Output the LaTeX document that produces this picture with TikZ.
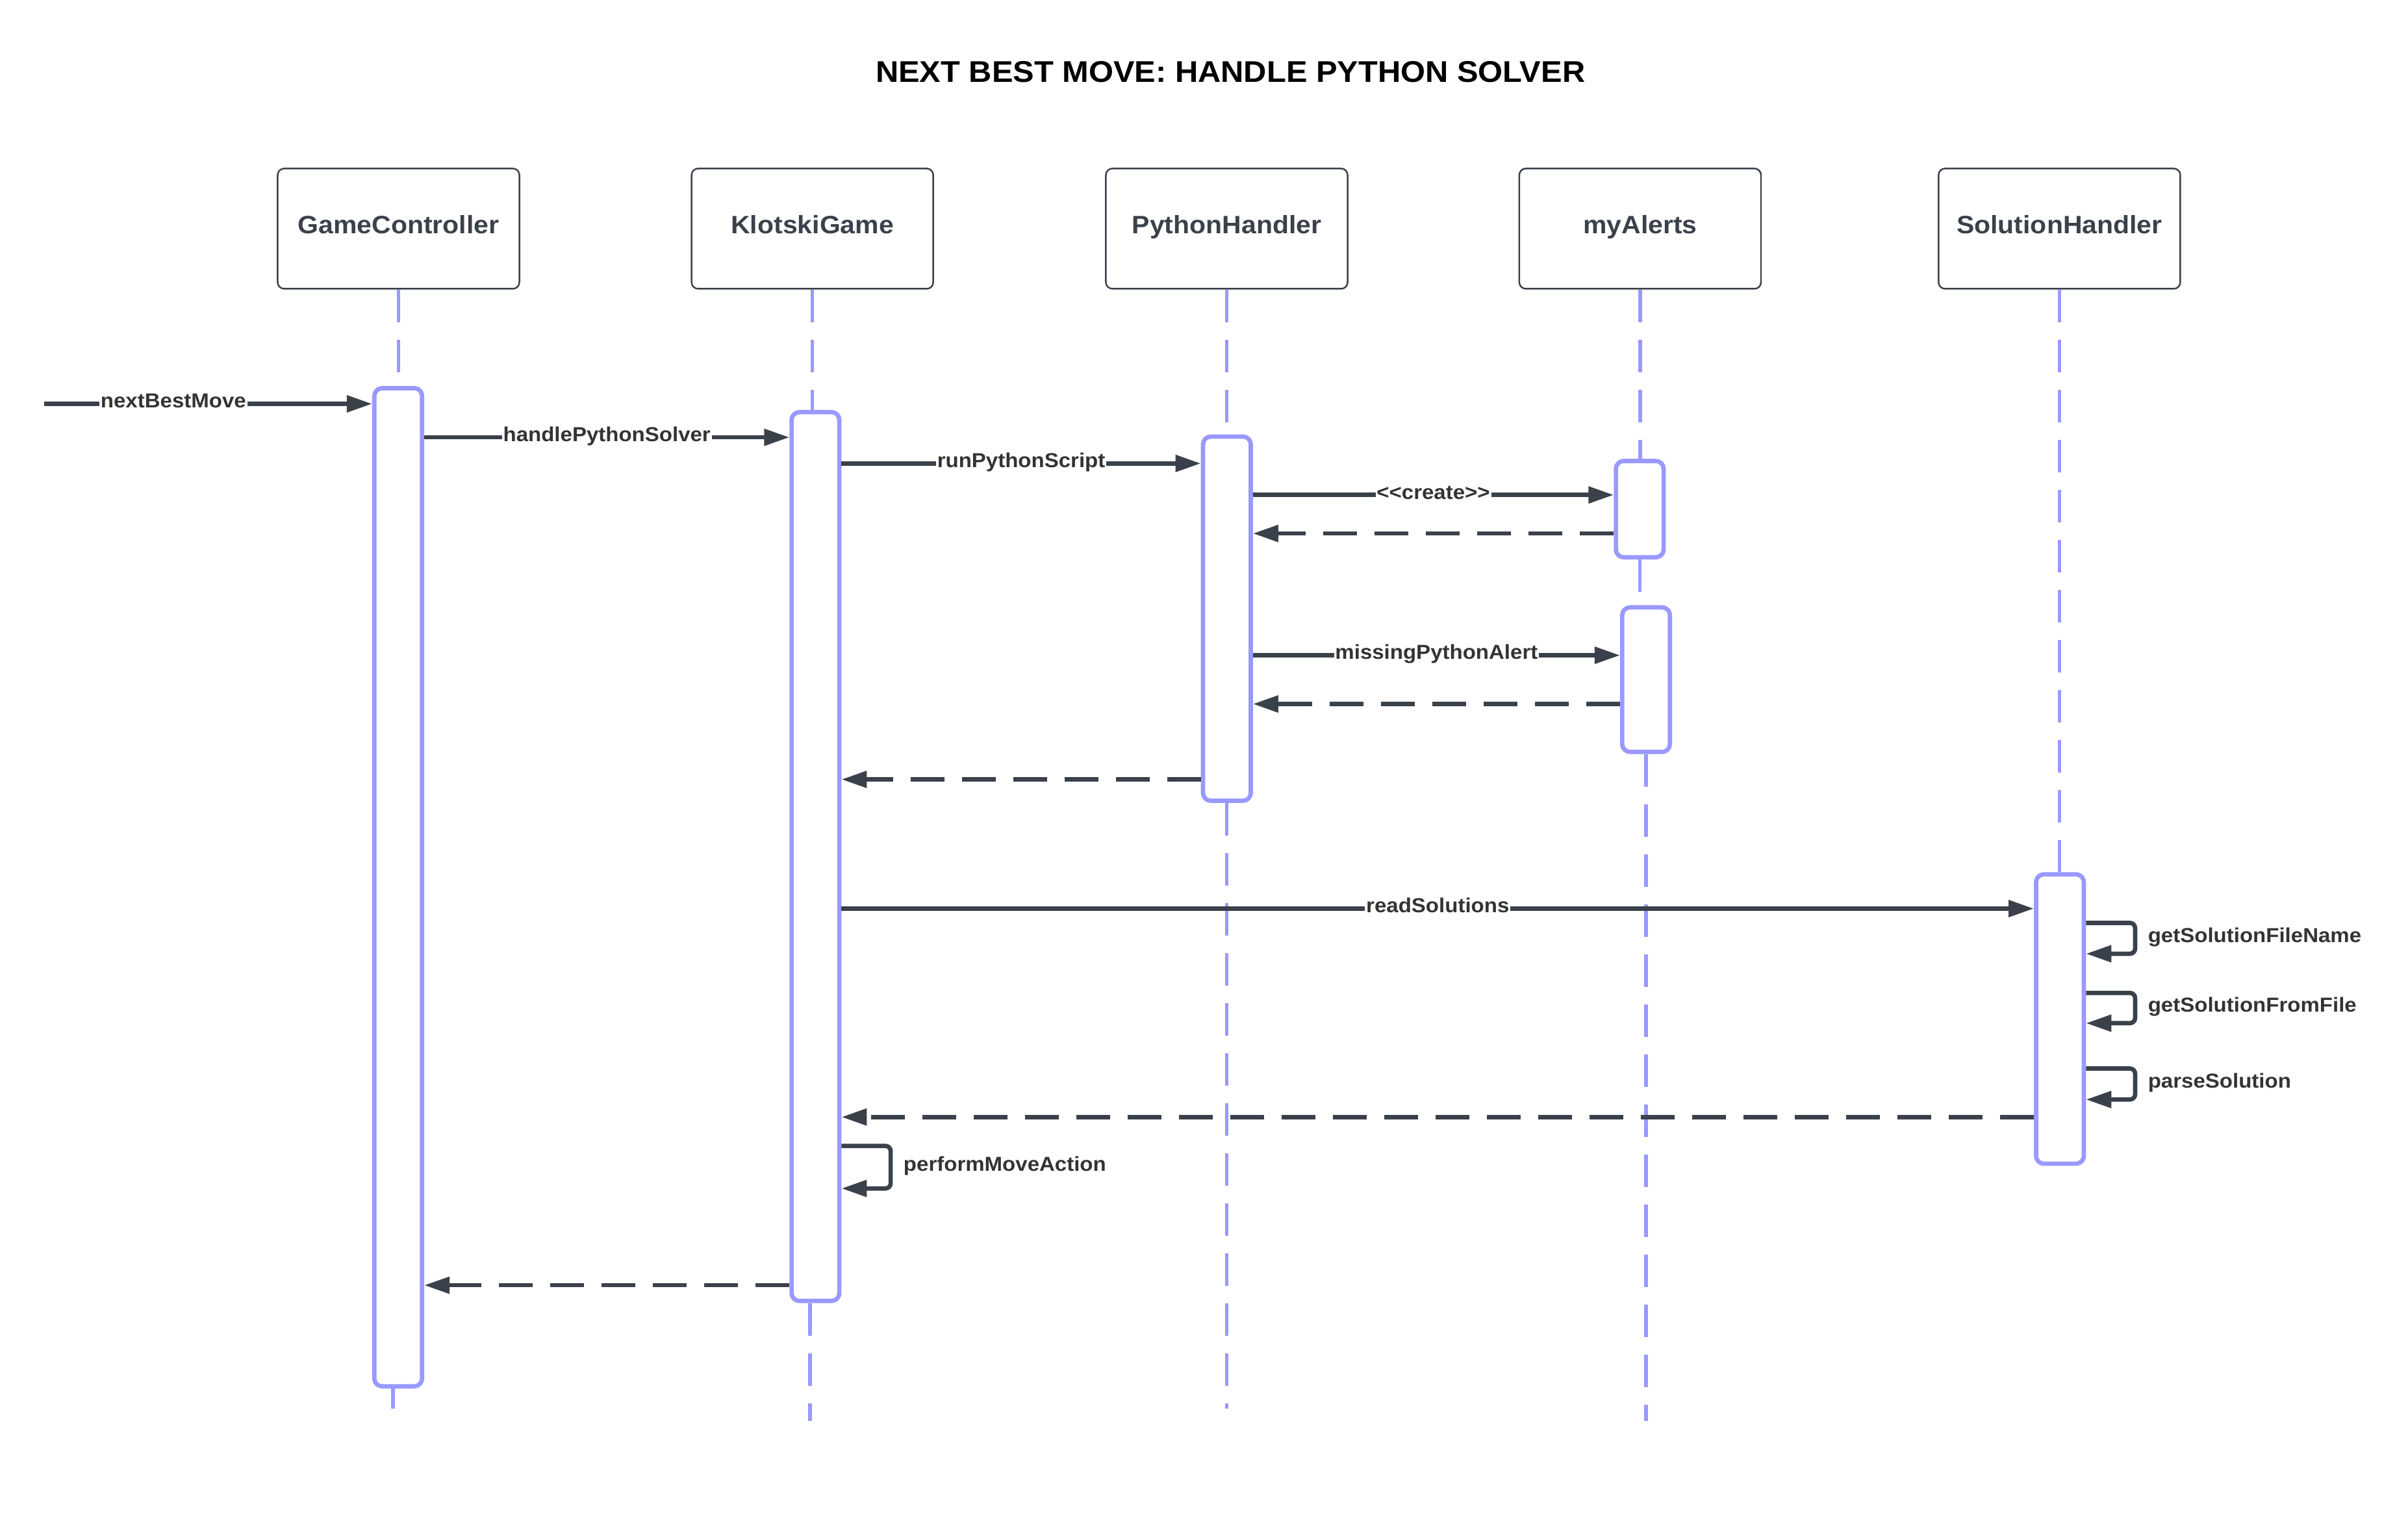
\documentclass[tikz,border=0pt]{standalone}
\usepackage{fontspec}
\setmainfont{Liberation Sans}[FakeStretch=1.06, Ligatures=TeXOff]
\usetikzlibrary{arrows.meta}
\definecolor{lifec}{HTML}{9999FF}
\definecolor{inkc}{HTML}{3A414A}
\definecolor{txtc}{HTML}{333333}
\begin{document}
\begin{tikzpicture}[x=0.02364cm, y=-0.02364cm, line join=round,
	>={Triangle[length=0.39cm, width=0.25cm]},
	ttl/.style={anchor=base, inner sep=0, font=\bfseries\fontsize{13.1}{15}\selectfont},
	part/.style={draw=inkc, line width=0.7pt, rounded corners=0.1cm, fill=white, minimum width=3.72cm, minimum height=1.85cm, text height=0.3cm, text depth=0.151cm, text=inkc, font=\bfseries\fontsize{11}{13}\selectfont},
	act/.style={draw=lifec, line width=1.9pt, fill=white, rounded corners=0.12cm, minimum width=0.735cm, minimum height=#1*0.02364cm, inner sep=0},
	lifeline/.style={draw=lifec, line width=0.055cm, dash pattern=on 0.5cm off 0.27cm},
	msg/.style={draw=inkc, line width=1.9pt, ->},
	ret/.style={msg, dash pattern=on 0.52cm off 0.27cm},
	lbl/.style={fill=white, inner xsep=0.5pt, inner ysep=1.5pt, anchor=base, yshift=-0.064cm, text=txtc, font=\bfseries\fontsize{8.86}{10}\selectfont},
	slbl/.style={inner sep=0, anchor=base west, xshift=0.165cm, yshift=-0.064cm, text=txtc, font=\bfseries\fontsize{8.86}{10}\selectfont}]
	\useasboundingbox (0,0) rectangle (1568,990);
	\node[ttl] (title) at (801.2,53.4) {NEXT BEST MOVE: HANDLE PYTHON SOLVER};
	\foreach \n/\x/\t in {gc/259.5/GameController, kg/529/KlotskiGame, ph/798.8/PythonHandler, ma/1068/myAlerts, sh/1341/SolutionHandler}
		\node[part] (\n) at (\x,148.85) {\t};
	\node[act=649.8] (gcbar) at (259.3,577.6) {};
	\node[act=578.6] (kgbar) at (531,557.6) {};
	\node[act=237.1] (phbar) at (798.9,402.75) {};
	\node[act=62.7] (mabarA) at (1067.75,331.45) {};
	\node[act=94.1] (mabarB) at (1071.85,442.45) {};
	\node[act=188.4] (shbar) at (1341.35,663.4) {};
	\coordinate (gcend) at (256,917);
	\coordinate (kgend) at (527.5,925);
	\coordinate (phend) at (798.8,917);
	\coordinate (maend) at (1071.8,925);
	\draw[lifeline] (gc.south) -- (gc.south |- gcbar.north) (gcend |- gcbar.south) -- (gcend);
	\draw[lifeline] (kg.south) -- (kg.south |- kgbar.north) (kgend |- kgbar.south) -- (kgend);
	\draw[lifeline] (ph.south) -- (ph.south |- phbar.north) (phend |- phbar.south) -- (phend);
	\draw[lifeline] (ma.south) -- (ma.south |- mabarA.north) (mabarA.south) -- (mabarA.south |- mabarB.north) (maend |- mabarB.south) -- (maend);
	\draw[lifeline] (sh.south) -- (sh.south |- shbar.north);
	\foreach \n/\y in {mA/262.9, mB/284.7, mC/301.7, mD/322.2, mE/347.3, mF/426.6, mG/458.3, mH/507.4, mI/591.5, mJ/727.2, mK/836.7, sA/600.8, sB/646.4, sC/695.6, sD/746}
		\coordinate (\n) at (0,\y);
	\coordinate (start) at (28.7,262.9);
	\draw[msg] (start) -- (gcbar.west |- mA) node[lbl, pos=.394] (lA) {nextBestMove};
	\draw[msg] (gcbar.east |- mB) -- (kgbar.west |- mB) node[lbl, midway] (lB) {handlePythonSolver};
	\draw[msg] (kgbar.east |- mC) -- (phbar.west |- mC) node[lbl, midway] (lC) {runPythonScript};
	\draw[msg] (phbar.east |- mD) -- (mabarA.west |- mD) node[lbl, midway] (lD) {<<create>>};
	\draw[ret] (mabarA.west |- mE) -- (phbar.east |- mE);
	\draw[msg] (phbar.east |- mF) -- (mabarB.west |- mF) node[lbl, midway] (lF) {missingPythonAlert};
	\draw[ret] (mabarB.west |- mG) -- (phbar.east |- mG);
	\draw[ret] (phbar.west |- mH) -- (kgbar.east |- mH);
	\draw[msg] (kgbar.east |- mI) -- (shbar.west |- mI) node[lbl, midway] (lI) {readSolutions};
	\draw[msg, rounded corners=0.08cm] (shbar.east |- sA) -- ++(32,0) -- ++(0,20.1) node[slbl, midway] (lsA) {getSolutionFileName} -- ++(-32,0);
	\draw[msg, rounded corners=0.08cm] (shbar.east |- sB) -- ++(32,0) -- ++(0,19.7) node[slbl, midway] (lsB) {getSolutionFromFile} -- ++(-32,0);
	\draw[msg, rounded corners=0.08cm] (shbar.east |- sC) -- ++(32,0) -- ++(0,20.2) node[slbl, midway] (lsC) {parseSolution} -- ++(-32,0);
	\draw[ret] (shbar.west |- mJ) -- (kgbar.east |- mJ);
	\draw[msg, rounded corners=0.08cm] (kgbar.east |- sD) -- ++(32,0) -- ++(0,27.7) node[slbl, midway] (lsD) {performMoveAction} -- ++(-32,0);
	\draw[ret] (kgbar.west |- mK) -- (gcbar.east |- mK);
\end{tikzpicture}
\end{document}
